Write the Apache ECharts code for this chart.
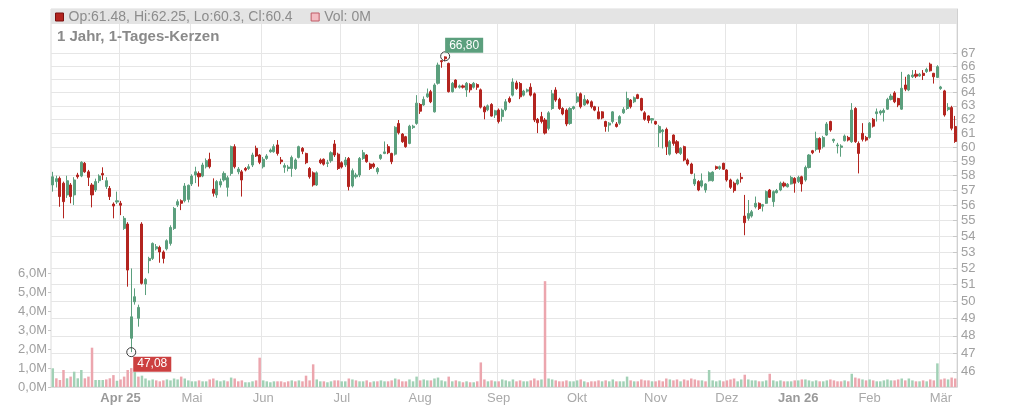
<!DOCTYPE html>
<html><head><meta charset="utf-8">
<script src="https://cdn.jsdelivr.net/npm/echarts@6/dist/echarts.min.js"></script>
<style>html,body{margin:0;padding:0;background:#fff}#c{width:1024px;height:409px}</style>
</head><body><div id="c"></div>
<script>
// Daily candles [open, high, low, close]
const ohlc = [
[57.37,58.27,56.92,57.93],[57.6,58.0,57.2,57.8],[57.82,57.95,55.91,56.59],[57.49,57.6,55.15,56.25],[56.7,58.0,56.5,57.66],
[57.37,57.5,56.14,56.59],[56.7,57.9,56.03,57.71],[58.05,58.2,57.8,57.93],[57.98,59.0,57.9,58.93],[58.86,58.95,58.2,58.27],
[58.27,58.4,57.3,57.89],[57.37,57.5,55.87,56.7],[57.03,57.8,56.9,57.6],[57.66,58.1,57.5,57.98],[58.16,58.58,57.71,58.05],
[57.26,57.9,57.1,57.66],[57.14,57.3,56.36,56.59],[56.09,56.2,55.15,55.96],[56.23,56.92,56.1,56.31],[56.14,56.3,55.36,56.01],
[54.5,55.3,54.4,55.15],[54.78,54.9,50.87,51.88],[47.86,51.98,47.08,49.09],[49.97,50.77,49.8,50.27],[49.0,49.8,48.52,49.64],
[54.78,54.9,51.0,51.07],[51.03,51.4,50.37,51.31],[52.46,52.7,51.68,52.6],[52.6,53.6,52.5,53.54],[53.2,53.5,53.1,53.33],
[53.29,53.4,52.33,53.0],[53.0,53.1,52.29,52.6],[53.2,53.8,53.1,53.71],[53.54,54.7,53.4,54.56],[54.5,55.9,54.4,55.8],
[56.03,56.4,55.9,56.25],[56.31,56.4,55.69,56.14],[56.31,57.5,56.2,57.3],[56.4,57.4,56.2,57.35],[57.44,58.1,57.3,57.98],
[58.05,58.62,57.5,58.27],[58.16,58.3,57.26,57.93],[57.98,58.9,57.9,58.74],[58.62,59.2,58.5,59.04],[59.14,59.6,58.5,58.62],
[57.08,57.82,56.59,56.81],[56.7,57.7,56.5,57.6],[57.37,57.8,57.2,57.6],[57.71,58.3,57.6,58.16],[57.21,58.0,56.59,57.86],
[58.16,60.1,58.0,60.03],[60.03,60.2,58.5,58.62],[58.27,58.6,58.1,58.46],[58.27,58.4,56.59,57.71],[58.5,58.6,58.3,58.39],
[58.5,58.8,58.4,58.62],[58.74,59.6,58.6,59.44],[59.91,60.1,59.3,59.37],[59.44,59.5,58.8,58.93],[58.62,59.3,58.5,59.14],
[59.2,59.5,59.1,59.37],[59.67,59.9,59.6,59.79],[59.67,60.2,59.6,60.03],[60.15,60.5,59.4,59.55],[59.09,59.3,58.8,58.97],
[58.58,58.86,58.2,58.7],[58.5,58.75,58.3,58.6],[58.5,59.4,57.93,59.27],[58.5,59.2,58.4,59.09],[59.27,60.1,59.2,60.03],
[59.91,60.0,59.5,59.7],[59.55,59.6,58.8,58.9],[58.5,58.6,57.8,57.93],[58.2,58.3,57.26,57.37],[57.37,58.3,57.3,58.2],
[59.09,59.2,58.8,58.9],[59.14,59.2,58.7,58.8],[58.85,59.1,58.6,58.9],[59.04,59.7,58.9,59.6],[60.22,60.5,59.3,59.44],
[59.5,59.6,58.4,58.5],[58.9,59.0,58.5,58.6],[58.74,59.3,58.6,59.09],[59.2,59.3,57.0,57.26],[57.3,58.5,57.2,58.35],
[57.93,58.2,57.8,58.05],[58.05,59.3,57.9,59.2],[59.2,59.8,59.1,59.6],[59.44,59.5,58.9,58.97],[58.81,58.9,58.4,58.5],
[58.81,58.9,58.5,58.62],[58.27,58.6,58.1,58.5],[59.2,59.5,59.1,59.44],[59.55,60.4,59.5,59.66],[60.03,60.2,59.5,59.6],
[59.55,59.6,58.8,58.97],[59.5,61.5,59.4,61.42],[61.7,61.95,60.9,61.03],[60.93,61.0,60.3,60.38],[60.74,60.8,59.95,60.03],
[60.26,61.6,60.2,61.5],[61.4,61.6,61.3,61.5],[61.7,63.8,61.6,63.2],[63.1,63.2,62.4,62.6],[63.06,63.7,63.0,63.48],
[63.67,64.3,63.6,63.9],[64.06,64.2,63.2,63.3],[62.55,64.7,62.5,64.57],[64.7,66.3,64.6,66.11],[66.45,66.5,65.9,66.37],
[66.75,66.8,66.4,66.6],[66.24,66.3,64.0,64.06],[64.06,64.8,64.0,64.7],[64.95,65.0,64.3,64.39],[64.4,64.6,64.3,64.5],
[64.5,64.6,64.3,64.4],[64.19,64.8,63.67,64.7],[64.6,64.7,64.0,64.2],[64.4,64.8,64.3,64.7],[64.6,64.7,64.2,64.4],
[64.2,64.3,62.8,62.9],[62.9,63.0,62.0,62.55],[62.7,63.1,62.6,63.0],[63.1,63.2,62.2,62.24],[62.32,62.7,62.1,62.63],
[62.68,62.8,61.7,61.84],[62.2,62.8,61.84,62.68],[62.72,63.5,62.6,63.3],[63.55,63.7,63.2,63.3],[63.8,65.08,63.7,64.8],
[64.73,64.9,64.2,64.3],[64.68,64.8,63.5,63.67],[63.8,64.2,63.7,64.1],[64.1,64.3,64.0,64.2],[64.4,64.7,63.7,63.8],
[63.9,64.0,61.8,61.95],[62.0,62.1,61.0,61.75],[62.2,62.55,61.7,61.84],[61.95,62.1,60.9,61.0],[61.34,62.6,61.2,62.48],
[62.8,64.19,62.7,63.9],[64.19,64.4,63.3,63.43],[63.48,63.6,62.7,62.8],[62.8,62.9,62.3,62.4],[62.68,62.8,61.5,61.66],
[61.7,62.9,61.6,62.8],[62.8,63.0,62.7,62.93],[63.3,64.0,63.2,63.67],[63.9,64.0,62.8,62.93],[63.06,63.8,63.0,63.48],
[63.38,63.5,63.1,63.2],[63.3,63.4,62.8,62.93],[62.93,63.0,62.6,62.68],[62.55,62.93,62.0,62.05],[62.55,62.6,62.0,62.1],
[61.84,61.9,61.1,61.48],[61.58,61.8,61.1,61.72],[61.84,62.6,61.7,62.55],[61.66,61.8,61.4,61.48],[61.72,62.3,61.6,62.2],
[62.48,62.9,62.4,62.73],[62.8,64.06,62.7,63.55],[63.43,63.5,62.8,62.93],[63.3,63.7,63.2,63.6],[63.83,63.9,63.5,63.55],
[63.55,63.6,62.6,62.68],[62.48,62.6,61.9,62.0],[62.25,62.3,61.72,61.92],[61.95,62.1,61.7,62.05],[61.84,61.9,61.6,61.66],
[61.03,61.6,60.0,61.48],[61.1,61.3,59.9,61.22],[61.27,61.4,59.44,60.03],[59.5,60.5,59.4,60.38],[60.86,60.9,60.1,60.26],
[60.38,60.5,59.5,59.6],[59.55,60.0,59.44,59.91],[60.03,60.1,59.0,59.09],[59.09,59.2,58.7,58.81],[58.81,58.9,58.1,58.16],
[57.44,58.16,57.3,57.76],[57.6,57.7,56.95,57.03],[57.3,58.16,57.2,57.66],[57.03,57.5,56.85,57.44],[57.66,58.3,57.6,58.2],
[57.66,58.3,57.6,58.25],[58.62,58.7,58.4,58.5],[58.5,58.7,58.4,58.62],[58.86,58.9,58.4,58.45],[58.39,58.45,57.6,57.71],
[57.71,57.8,57.1,57.21],[57.49,57.6,56.85,56.99],[57.44,57.8,57.35,57.71],[57.89,58.2,57.53,57.8],[55.3,56.7,54.06,54.87],
[55.15,56.36,55.0,55.47],[55.3,55.7,55.2,55.58],[55.91,56.59,55.8,56.14],[56.14,56.2,55.7,55.8],[55.95,56.1,55.6,56.05],
[56.14,57.0,56.1,56.92],[57.03,57.1,56.5,56.54],[56.25,57.0,55.91,56.92],[56.85,57.1,56.8,56.99],[57.03,57.6,56.95,57.49],
[57.49,57.6,57.2,57.3],[57.25,57.5,57.2,57.42],[57.44,58.0,57.4,57.89],[57.82,57.9,56.85,57.49],[57.6,58.0,57.5,57.89],
[57.93,58.0,56.92,57.44],[57.71,58.7,57.6,58.57],[58.57,59.5,58.5,59.44],[59.74,59.8,59.5,59.6],[59.84,61.1,59.7,60.62],
[60.62,60.7,59.6,59.84],[60.03,60.8,59.9,60.68],[60.86,61.8,60.8,61.66],[61.84,61.9,61.1,61.22],[60.45,60.6,60.3,60.55],
[60.08,60.3,59.55,60.15],[59.98,60.2,59.32,60.08],[60.45,60.9,60.4,60.79],[60.69,60.8,60.4,60.5],[60.38,63.2,60.3,62.68],
[62.8,62.9,60.3,60.38],[60.26,60.4,58.16,59.55],[60.98,61.72,60.4,60.55],[60.69,60.8,60.4,60.5],[60.69,61.8,60.6,61.72],
[62.0,62.1,61.4,61.5],[62.42,62.8,61.84,62.55],[62.46,62.7,62.3,62.6],[62.5,62.8,61.84,62.65],[62.75,63.6,62.7,63.48],
[63.48,63.9,63.4,63.73],[63.97,64.1,63.2,63.3],[63.55,63.6,62.9,63.06],[62.75,65.58,62.7,64.32],[64.57,65.2,64.1,64.25],
[64.19,65.4,64.1,65.33],[65.2,65.72,65.1,65.33],[65.4,65.72,65.1,65.25],[65.26,65.5,65.2,65.4],[65.47,65.72,64.95,65.3],
[65.6,65.9,65.5,65.77],[66.18,66.3,65.6,65.66],[65.47,65.5,64.68,65.2],[65.15,66.1,65.1,65.98],[64.3,64.5,64.2,64.42],
[64.12,64.2,62.2,62.32],[62.72,63.2,62.6,62.87],[62.87,63.0,61.2,61.35],[61.48,62.25,60.3,60.4]
];
// Daily volume in millions
const volumes = [
0.99,0.46,0.37,0.9,0.46,0.55,0.81,0.46,0.9,0.46,0.55,2.08,0.37,0.37,0.37,0.4,0.46,0.63,0.33,0.4,
0.55,0.9,1.0,0.8,0.55,0.6,0.45,0.35,0.4,0.35,0.3,0.35,0.4,0.35,0.45,0.4,0.55,0.45,0.35,0.3,
0.3,0.35,0.3,0.3,0.4,0.45,0.35,0.3,0.35,0.3,0.5,0.45,0.3,0.35,0.25,0.25,0.3,0.35,1.55,0.35,
0.3,0.25,0.3,0.3,0.3,0.25,0.3,0.35,0.3,0.35,0.3,0.6,0.35,1.2,0.4,0.3,0.3,0.25,0.3,0.35,
0.35,0.3,0.3,0.45,0.4,0.35,0.3,0.3,0.35,0.25,0.3,0.3,0.35,0.3,0.3,0.35,0.45,0.4,0.3,0.3,
0.4,0.3,0.55,0.35,0.4,0.35,0.35,0.45,0.5,0.35,0.3,0.55,0.3,0.35,0.3,0.25,0.3,0.25,0.25,0.3,
1.3,0.4,0.3,0.35,0.3,0.3,0.4,0.35,0.3,0.4,0.3,0.35,0.3,0.3,0.35,0.45,0.35,0.4,5.6,0.45,
0.4,0.35,0.3,0.3,0.35,0.3,0.3,0.35,0.4,0.3,0.25,0.3,0.3,0.35,0.3,0.35,0.3,0.4,0.3,0.3,
0.3,0.55,0.35,0.3,0.3,0.4,0.35,0.35,0.3,0.3,0.35,0.3,0.45,0.4,0.35,0.4,0.3,0.4,0.35,0.45,
0.4,0.35,0.35,0.3,0.9,0.35,0.3,0.35,0.3,0.35,0.4,0.45,0.3,0.4,0.65,0.4,0.35,0.35,0.3,0.3,
0.35,0.7,0.35,0.3,0.35,0.3,0.3,0.3,0.35,0.35,0.4,0.4,0.35,0.3,0.35,0.3,0.3,0.35,0.4,0.35,
0.3,0.3,0.35,0.3,0.7,0.5,0.45,0.4,0.35,0.4,0.35,0.3,0.3,0.35,0.4,0.35,0.35,0.4,0.45,0.35,
0.45,0.35,0.3,0.3,0.35,0.3,0.4,0.35,1.25,0.4,0.45,0.4,0.5,0.45
];
// first candle of each month shown on the time axis
const monthStarts = [19,39,59,81,103,125,147,169,189,209,229,249];
const monthLabels = ['Apr 25','Mai','Jun','Jul','Aug','Sep','Okt','Nov','Dez','Jan 26','Feb','Mär'];
const yearLabels = ['Apr 25','Jan 26'];
const priceTicks = [46,47,48,49,50,51,52,53,54,55,56,57,58,59,60,61,62,63,64,65,66,67];
const titleText = '1 Jahr, 1-Tages-Kerzen';
const volLegend = 'Vol: 0M';

const UP = '#5b9f7d', DOWN = '#b3241f';
const VUP = '#a2d1b6', VDOWN = '#eca6ae';
const last = ohlc[ohlc.length - 1];
const candleName = 'Op:' + last[0] + ', Hi:' + last[1] + ', Lo:' + last[2] + ', Cl:' + last[3];
const cats = ohlc.map((d, i) => String(i));
const candleData = ohlc.map(d => [d[0], d[3], d[2], d[1]]);
const volData = volumes.map((v, i) => ({
  value: v * 1e6,
  itemStyle: { color: (i === 0 ? ohlc[i][3] >= ohlc[i][0] : ohlc[i][3] >= ohlc[i - 1][3]) ? VUP : VDOWN }
}));
const monthMap = {};
monthStarts.forEach((s, k) => { monthMap[s] = monthLabels[k]; });
const evenTicks = priceTicks.filter(v => v % 2 === 0);
const oddTicks = priceTicks.filter(v => v % 2 === 1);
const FONT = 'Liberation Sans, Arial, sans-serif';
const fmt = v => v.toFixed(2).replace('.', ',');
const PMIN = 45.18, PMAX = 70.64;
const GRID = { left: 51, right: 67, top: 9, bottom: 22 };
const priceLabel = { color: '#a0a0a0', fontSize: 13, margin: 4, fontFamily: FONT, showMaxLabel: true, showMinLabel: true, formatter: v => String(Math.round(v)) };

const chart = echarts.init(document.getElementById('c'), null, { renderer: 'canvas' });
chart.setOption({
  animation: false,
  textStyle: { fontFamily: FONT },
  title: { text: titleText, left: 52, top: 24, textStyle: { fontSize: 15, fontWeight: 'bold', color: '#8a8a8a', fontFamily: FONT } },
  legend: {
    left: 50, top: 10, icon: 'rect', itemWidth: 8, itemHeight: 8, itemGap: 18, padding: [0, 5, 0, 5],
    textStyle: { fontSize: 14, color: '#8c8c8c', fontFamily: FONT },
    data: [
      { name: candleName, itemStyle: { color: DOWN, borderColor: '#7a1010', borderWidth: 1 } },
      { name: volLegend, itemStyle: { color: '#f3bcc2', borderColor: '#c05a66', borderWidth: 1 } }
    ],
    selectedMode: false
  },
  graphic: [{ type: 'rect', z: 1, shape: { x: 51, y: 9, width: 906, height: 15 }, style: { fill: '#e4e4e4' } }],
  grid: [
    Object.assign({ show: true, borderColor: '#dcdcdc', borderWidth: 1, backgroundColor: 'transparent' }, GRID),
    { left: 51, right: 67, top: 273.6, bottom: 22 },
    Object.assign({}, GRID)
  ],
  xAxis: [
    {
      type: 'category', gridIndex: 0, data: cats, boundaryGap: true,
      axisLine: { show: true, lineStyle: { color: '#dcdcdc' } },
      axisTick: { show: false },
      axisLabel: {
        interval: i => monthMap[i] !== undefined,
        formatter: (v, i) => { const t = monthMap[i] || ''; return yearLabels.includes(t) ? '{b|' + t + '}' : t; },
        color: '#aaaaaa', fontSize: 13, margin: 5, fontFamily: FONT,
        rich: { b: { fontWeight: 'bold', color: '#9a9a9a', fontSize: 13, fontFamily: FONT } }
      },
      splitLine: { show: true, interval: i => monthMap[i] !== undefined, lineStyle: { color: '#e6e6e6', width: 1 } }
    },
    { type: 'category', gridIndex: 1, data: cats, boundaryGap: true, show: false },
    { type: 'category', gridIndex: 2, data: cats, boundaryGap: true, show: false }
  ],
  yAxis: [
    {
      type: 'log', logBase: 10, gridIndex: 0, position: 'right', min: PMIN, max: PMAX,
      axisLine: { show: true, lineStyle: { color: '#d0d0d0' } },
      axisTick: { show: true, inside: true, length: 4, customValues: priceTicks, lineStyle: { color: '#c8c8c8' } },
      axisLabel: Object.assign({ customValues: evenTicks }, priceLabel),
      splitLine: { show: true, lineStyle: { color: '#e6e6e6', width: 1 } }
    },
    {
      type: 'value', gridIndex: 1, position: 'left', min: 0, max: 6e6, interval: 1e6,
      axisLine: { show: false },
      axisTick: { show: true, length: 3, lineStyle: { color: '#c8c8c8' } },
      axisLabel: { showMaxLabel: true, color: '#a0a0a0', fontSize: 13, margin: 4, fontFamily: FONT, formatter: v => (v / 1e6).toFixed(1).replace('.', ',') + 'M' },
      splitLine: { show: false }
    },
    {
      type: 'log', logBase: 10, gridIndex: 2, position: 'right', min: PMIN, max: PMAX,
      axisLine: { show: false }, axisTick: { show: false }, splitLine: { show: false },
      axisLabel: Object.assign({ customValues: oddTicks }, priceLabel)
    }
  ],
  series: [
    {
      name: candleName, type: 'candlestick', xAxisIndex: 0, yAxisIndex: 0, data: candleData, barWidth: '72%',
      itemStyle: { color: UP, color0: DOWN, borderColor: UP, borderColor0: DOWN, borderWidth: 1 },
      z: 3,
      markPoint: {
        symbol: 'circle', symbolSize: 9,
        itemStyle: { color: 'rgba(255,255,255,0)', borderColor: '#3a3a3a', borderWidth: 1 },
        label: { show: true, formatter: p => fmt(p.value), color: '#fff', fontSize: 12, fontFamily: FONT, padding: [2, 4, 1, 4] },
        data: [
          { type: 'max', valueDim: 'highest', label: { position: 'inside', offset: [19, -11], backgroundColor: '#5b9f7d' } },
          { type: 'min', valueDim: 'lowest', label: { position: 'inside', offset: [21, 12], backgroundColor: '#cc4040' } }
        ]
      }
    },
    {
      name: volLegend, type: 'bar', xAxisIndex: 1, yAxisIndex: 1, data: volData, barWidth: '70%', z: 2
    }
  ]
});
</script></body></html>
